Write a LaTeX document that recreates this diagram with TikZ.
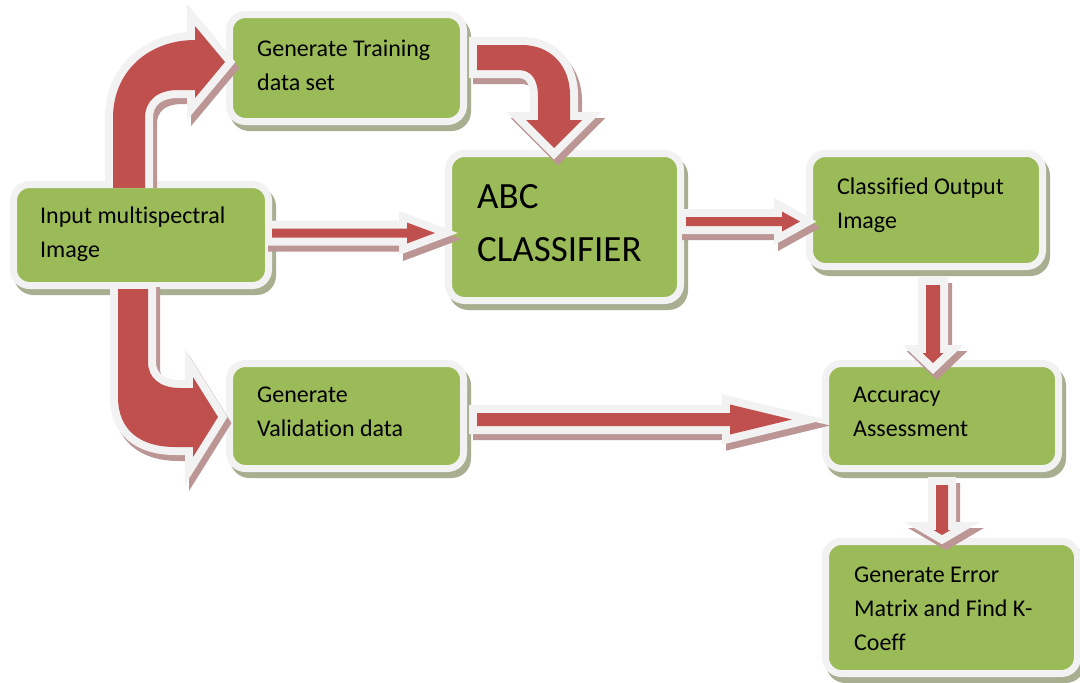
\documentclass[tikz,border=0pt]{standalone}
\usepackage{fontspec}
\setmainfont{Carlito}[Ligatures=NoCommon]
\usetikzlibrary{calc}
\definecolor{grn}{HTML}{9BBB59}
\definecolor{arrred}{HTML}{C0504D}
\definecolor{outl}{HTML}{F2F2F2}
\definecolor{shgrn}{HTML}{A7AF90}
\definecolor{shred}{HTML}{BC9595}
\pgfdeclarelayer{bg}
\pgfsetlayers{bg,main}
\tikzset{
  box/.style={rectangle, rounded corners=16, fill=grn, draw=outl, line width=7, outer sep=0, inner sep=0},
  boxshadow/.style={rounded corners=16, fill=shgrn, draw=shgrn, line width=7},
  lbl/.style={font=\fontsize{24}{34}\selectfont, align=left, anchor=base west, inner sep=0, text=black},
  biglbl/.style={lbl, font=\fontsize{37}{53}\selectfont},
  arrwhite/.style={draw=outl, fill=outl, line width=16, miter limit=20},
  arrshadow/.style={draw=shred, fill=shred, line width=16, miter limit=20},
  arrfill/.style={fill=arrred},
}
\newcommand\blockarrow[2]{%
  \begin{scope}
    \clip #1;
    \begin{scope}[transform canvas={shift={(4,6)}}]\path[arrshadow] #2;\end{scope}
    \path[arrwhite] #2;
    \path[arrfill] #2;
  \end{scope}}
\newcommand\straightarrow[6]{% #1 clip, #2 start, #3 tip, #4 shaft hw, #5 head hw, #6 head length
  \coordinate (tmpB) at ($(#3)!#6pt!(#2)$);
  \blockarrow{#1}{($(#2)!#4pt!90:(#3)$) -- ($(tmpB)!#4pt!90:(#3)$) -- ($(tmpB)!#5pt!90:(#3)$) -- (#3)
    -- ($(tmpB)!#5pt!-90:(#3)$) -- ($(tmpB)!#4pt!-90:(#3)$) -- ($(#2)!#4pt!-90:(#3)$) -- cycle}}
\begin{document}
\begin{tikzpicture}[x=1pt, y=-1pt]
\useasboundingbox (0,0) rectangle (1080,683);
\begin{pgfonlayer}{bg}
  \fill[white] (0,0) rectangle (1080,683);
\end{pgfonlayer}

% boxes
\node[box, minimum width=255, minimum height=101] (in)    at (141,235)   {};
\node[box, minimum width=234, minimum height=107] (train) at (346.5,68)  {};
\node[box, minimum width=232, minimum height=147] (abc)   at (564.5,227) {};
\node[box, minimum width=233, minimum height=113] (cls)   at (926,210)   {};
\node[box, minimum width=234, minimum height=105] (val)   at (346.5,416) {};
\node[box, minimum width=233, minimum height=105] (acc)   at (942,416)   {};
\node[box, minimum width=252, minimum height=132] (err)   at (951.5,607.5) {};

\begin{pgfonlayer}{bg}
  \foreach \n in {in,train,abc,cls,val,acc,err}
    \path[boxshadow] ([shift={(4,6)}]\n.north west) rectangle ([shift={(4,6)}]\n.south east);
\end{pgfonlayer}

% texts (anchored at the baseline of the last line)
\node[lbl] (in-t)    at (40,257)  {Input multispectral\\Image};
\node[lbl] (train-t) at (257,90)  {Generate Training\\data set};
\node[biglbl] (abc-t) at (477,261) {ABC\\CLASSIFIER};
\node[lbl] (cls-t)   at (837,228) {Classified Output\\Image};
\node[lbl] (val-t)   at (257,436) {Generate\\Validation data};
\node[lbl] (acc-t)   at (853,436) {Accuracy\\Assessment};
\node[lbl] (err-t)   at (854,650) {Generate Error\\Matrix and Find K-\\Coeff};

% connector end points
\coordinate (a1s) at ($(in.north)+(-28,4.5)$);
\coordinate (a1t) at ($(train.west)+(-4.5,-6)$);
\coordinate (a2s) at ($(in.south)+(-23,3.5)$);
\coordinate (a2t) at ($(val.west)+(-11.5,1)$);
\coordinate (a3s) at ($(train.east)+(13.5,-23)$);
\coordinate (a3t) at ($(abc.north)+(-10.5,-5.5)$);
\coordinate (a4s) at ($(in.east)+(3.5,-2)$);
\coordinate (a4x) at ($(abc.west)+(-13.5,0)$);
\coordinate (a4t) at (a4s -| a4x);
\coordinate (a5s) at ($(abc.east)+(5.5,-5.5)$);
\coordinate (a5x) at ($(cls.west)+(-9.5,0)$);
\coordinate (a5t) at (a5s -| a5x);
\coordinate (a6s) at ($(cls.south)+(7,18.5)$);
\coordinate (a6x) at ($(acc.north)+(0,-0.5)$);
\coordinate (a6t) at (a6s |- a6x);
\coordinate (a7s) at ($(acc.south)+(0,16.5)$);
\coordinate (a7x) at ($(err.north)+(0,-6.5)$);
\coordinate (a7t) at (a7s |- a7x);
\coordinate (a8s) at ($(val.east)+(13.5,3.5)$);
\coordinate (a8x) at ($(acc.west)+(-33.5,0)$);
\coordinate (a8t) at (a8s -| a8x);

% curved arrows
\blockarrow{(0,0) rectangle (1080,187)}{(a1s) -- ++(0,-71) .. controls +(0,-48) and +(-45,0) .. ($(a1t)+(-30,-22)$)
  -- ($(a1t)+(-30,-36)$) -- (a1t) -- ($(a1t)+(-30,36)$) -- ($(a1t)+(-30,28)$) -- ($(a1t)+(-47,28)$)
  .. controls +(-20,0) and +(0,-18) .. ($(a1s)+(32,-71)$) -- ($(a1s)+(32,0)$) -- cycle}
\blockarrow{(0,282) rectangle (1080,683)}{(a2s) -- ++(0,108) .. controls +(0,33) and +(-35,0) .. ($(a2t)+(-43,30)$)
  -- ($(a2t)+(-25,30)$) -- ($(a2t)+(-25,40)$) -- (a2t) -- ($(a2t)+(-25,-40)$) -- ($(a2t)+(-25,-29)$) -- ($(a2t)+(-38,-29)$)
  .. controls +(-20,0) and +(0,16) .. ($(a2s)+(30,73)$) -- ($(a2s)+(30,0)$) -- cycle}
\blockarrow{(0,0) rectangle (1080,683)}{(a3s) -- ++(45,0) .. controls +(28,0) and +(0,-30) .. ($(a3t)+(16,-53)$)
  -- ($(a3t)+(16,-28)$) -- ($(a3t)+(28,-28)$) -- (a3t) -- ($(a3t)+(-28,-28)$) -- ($(a3t)+(-16,-28)$) -- ($(a3t)+(-16,-51)$)
  .. controls +(0,-17) and +(14,0) .. ($(a3s)+(41,25)$) -- ($(a3s)+(0,25)$) -- cycle}

% straight arrows
\straightarrow{(265,0) rectangle (1080,683)}{a4s}{a4t}{4.5}{10.5}{28}
\straightarrow{(0,0) rectangle (1080,683)}{a5s}{a5t}{4.5}{10}{18}
\straightarrow{(0,0) rectangle (1080,683)}{a6s}{a6t}{7}{10.5}{10}
\straightarrow{(0,0) rectangle (1080,683)}{a7s}{a7t}{6}{8.5}{5}
\straightarrow{(0,0) rectangle (1080,683)}{a8s}{a8t}{6.5}{15}{62}
\end{tikzpicture}
\end{document}
